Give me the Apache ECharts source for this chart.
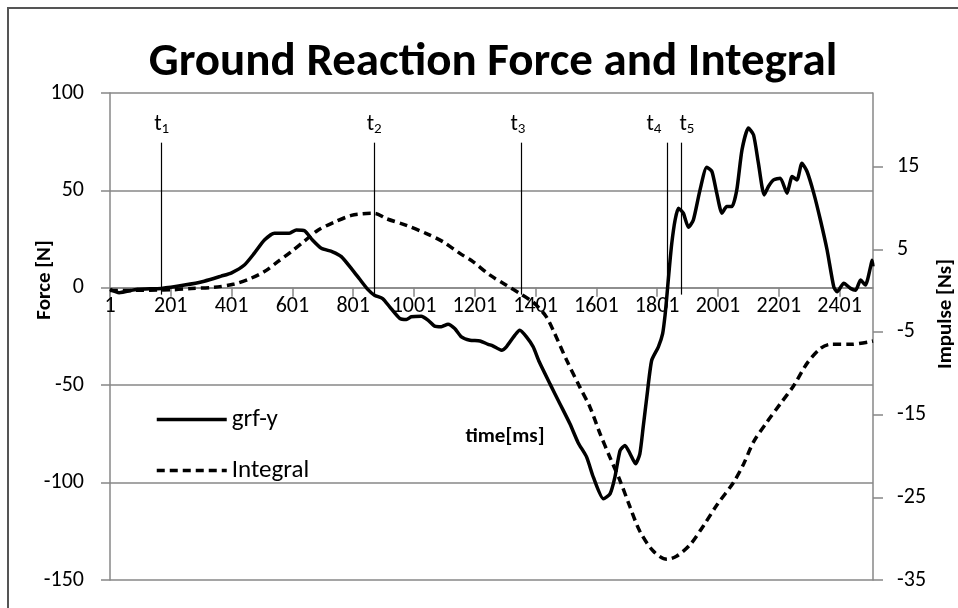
<!DOCTYPE html>
<html><head><meta charset="utf-8">
<script src="https://cdn.jsdelivr.net/npm/echarts@6/dist/echarts.min.js"></script>
<style>html,body{margin:0;padding:0;background:#fff}#c{width:958px;height:608px}</style>
</head><body><div id="c"></div><script>
const FONT = 'Carlito, Lato, sans-serif';
const chartTitle = 'Ground Reaction Force and Integral';
// x values are sample index offsets (ms - 1); labels show ms
const xTickLabels = ['1','201','401','601','801','1001','1201','1401','1601','1801','2001','2201','2401'];
const impulseTicks = [-35,-25,-15,-5,5,15];

const forceTime = [0,30,90,169,245,310,366,400,442,475,508,541,590,613,640,666,695,732,761,798,821,848,870,897,920,953,975,991,1024,1046,1068,1090,1112,1134,1156,1184,1217,1244,1259,1288,1304,1332,1348,1370,1392,1412,1447,1480,1513,1540,1568,1590,1623,1645,1661,1678,1694,1711,1729,1743,1754,1766,1782,1804,1818,1826,1832,1840,1848,1859,1870,1886,1903,1919,1941,1963,1980,1996,2013,2029,2046,2062,2079,2100,2117,2133,2152,2166,2183,2205,2227,2244,2260,2276,2293,2315,2337,2359,2381,2392,2414,2436,2453,2469,2485,2502,2507,2510];
const forceValues = [-0.8,-2.5,-0.8,-0.3,1.4,3.4,6,7.7,11.7,17.8,24.5,28,28,29.7,29.3,24.5,20.3,18.5,16,9.1,4.5,-0.8,-3.8,-5.5,-9.8,-15.7,-16.3,-14.9,-14.6,-16.6,-19.7,-20,-18.7,-20.9,-25.2,-26.9,-27.3,-29,-29.8,-32,-30.3,-24.3,-21.8,-25.2,-30.3,-38,-49.2,-59.5,-69.8,-79.5,-86.9,-97.2,-108.3,-105.8,-97.2,-83.5,-80.9,-85.2,-90.3,-85.2,-71.5,-56,-37.2,-30.3,-23.5,-14,-4,10,22.8,34.8,40.8,38.3,31.1,34.8,50.3,61.9,59.7,48.6,38.3,41.7,41.7,50.3,70.8,82,78.5,64,47.7,52,55.4,56.3,48.6,57.1,55.4,64,59.7,48.6,34.8,19.4,0.5,-2,2.3,-0.3,-1.2,4,1.4,10.8,14.2,11];

const integralTime = [0,201,267,343,409,464,508,552,596,640,684,739,794,832,870,909,975,1041,1096,1151,1194,1249,1304,1348,1392,1414,1436,1458,1502,1546,1579,1612,1645,1678,1711,1743,1787,1832,1865,1909,1953,1997,2051,2084,2117,2161,2205,2249,2293,2337,2370,2436,2510];
const integralValues = [0,0.1,0.25,0.4,0.8,1.5,2.3,3.5,4.7,6.0,7.3,8.3,9.1,9.3,9.35,8.7,7.9,6.9,5.9,4.5,3.5,1.9,0.65,-0.35,-1.4,-2.2,-3.2,-4.8,-8.4,-11.7,-14.1,-17.3,-20.2,-23,-26.2,-29.1,-31.5,-32.5,-32.1,-30.7,-28.4,-25.9,-23.2,-21,-18.3,-15.9,-13.7,-11.5,-8.8,-7,-6.5,-6.5,-6.1];

const eventNames = ['1','2','3','4','5'];
const eventTimes = [170,869,1352,1832,1878];

const pairs = (xs, ys) => xs.map((x, i) => [x, ys[i]]);
const grey = '#878787';
// horizontal nudges of the event labels (px), so t4 and t5 do not collide
const eventLabelShift = [0, 0, -3, -13, 6];

// grid geometry (px) used to place the x axis where Force = 0
const gridTop = 93, gridBottom = 28, chartH = 608;
const forceMin = -150, forceMax = 100;
const plotH = chartH - gridTop - gridBottom;
const zeroOffset = -(0 - forceMin) / (forceMax - forceMin) * plotH;

const chart = echarts.init(document.getElementById('c'));
chart.setOption({
  animation: false,
  backgroundColor: '#fff',
  title: {
    text: chartTitle, left: 488, top: 35, textAlign: 'center',
    textStyle: {fontFamily: FONT, fontWeight: 'bold', fontSize: 47, color: '#000'}
  },
  grid: {left: 110, right: 85, top: gridTop, bottom: gridBottom, containLabel: false},
  legend: {
    orient: 'vertical', left: 155, top: 407, padding: 0, itemWidth: 70, itemHeight: 14, itemGap: 26,
    itemStyle: {opacity: 0},
    lineStyle: {width: 3.5},
    textStyle: {fontFamily: FONT, fontSize: 25, color: '#000', padding: [0,0,0,0]},
    data: ['grf-y', 'Integral']
  },
  xAxis: {
    type: 'value', min: 0, max: 2510, interval: 200, position: 'bottom', offset: zeroOffset,
    axisLine: {show: true, onZero: false, lineStyle: {color: grey, width: 1.5}},
    axisTick: {show: true, length: 9, lineStyle: {color: grey, width: 1.5}},
    axisLabel: {showMaxLabel: false, formatter: v => xTickLabels[Math.round(v / 200)] || '',
      fontFamily: FONT, fontSize: 22, color: '#000', margin: 8},
    splitLine: {show: false}
  },
  yAxis: [{
    type: 'value', min: forceMin, max: forceMax, interval: 50, position: 'left',
    axisLine: {show: true, lineStyle: {color: grey, width: 1.5}},
    axisTick: {show: true, length: 9, lineStyle: {color: grey, width: 1.5}},
    axisLabel: {fontFamily: FONT, fontSize: 22, color: '#000', margin: 26},
    splitLine: {show: true, lineStyle: {color: grey, width: 1.5}}
  }, {
    type: 'value', min: -35, max: 23.9, position: 'right',
    axisLine: {show: true, lineStyle: {color: grey, width: 1.5}},
    axisTick: {show: true, customValues: impulseTicks, length: 10, lineStyle: {color: grey, width: 1.5}},
    axisLabel: {customValues: impulseTicks, fontFamily: FONT, fontSize: 22, color: '#000', margin: 24},
    splitLine: {show: false}
  }],
  graphic: [
    {type: 'rect', shape: {x: 8, y: 8, width: 1000, height: 700}, style: {fill: 'none', stroke: '#555', lineWidth: 2}, silent: true},
    {type: 'text', x: 45, y: 280, rotation: Math.PI / 2, style: {text: 'Force [N]', font: 'bold 21px ' + FONT, fill: '#000', align: 'center', verticalAlign: 'middle'}},
    {type: 'text', x: 946, y: 314, rotation: Math.PI / 2, style: {text: 'Impulse [Ns]', font: 'bold 21px ' + FONT, fill: '#000', align: 'center', verticalAlign: 'middle'}},
    {type: 'text', x: 505, y: 437, style: {text: 'time[ms]', font: 'bold 21px ' + FONT, fill: '#000', align: 'center', verticalAlign: 'middle'}}
  ],
  series: [{
    name: 'grf-y', type: 'line', yAxisIndex: 0, data: pairs(forceTime, forceValues),
    symbol: 'none', smooth: 0.2, lineStyle: {color: '#000', width: 3.5}, itemStyle: {color: '#000'},
    markLine: {
      silent: true, symbol: ['none', 'none'], animation: false,
      lineStyle: {color: '#000', width: 1.2, type: 'solid'},
      label: {show: true, position: 'start', distance: 6,
        formatter: p => '{t|t}{s|' + p.name + '}',
        rich: {t: {fontFamily: FONT, fontSize: 22, color: '#000'}, s: {fontFamily: FONT, fontSize: 15, color: '#000', padding: [10, 0, 0, 0]}}},
      data: eventTimes.map((t, i) => [
        {coord: [t, 74.5], name: eventNames[i], label: {offset: [eventLabelShift[i], 0]}},
        {coord: [t, -3.5]}])
    }
  }, {
    name: 'Integral', type: 'line', yAxisIndex: 1, data: pairs(integralTime, integralValues),
    symbol: 'none', smooth: 0.3, lineStyle: {color: '#000', width: 3.5, type: [8, 5]}, itemStyle: {color: '#000'}
  }]
});
</script></body></html>
